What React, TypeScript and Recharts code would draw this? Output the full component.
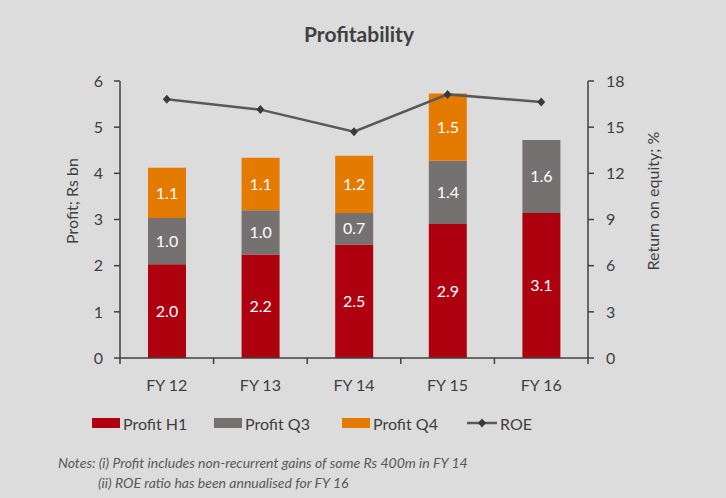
import {
  ComposedChart, Bar, Line, XAxis, YAxis, LabelList,
} from "recharts";

const years = ["FY 12", "FY 13", "FY 14", "FY 15", "FY 16"];
const profitH1 = [2.03, 2.24, 2.46, 2.9, 3.14];
const profitQ3 = [1.0, 0.96, 0.68, 1.37, 1.58];
const profitQ4 = [1.09, 1.14, 1.24, 1.46, 0];
const roe = [16.81, 16.14, 14.71, 17.13, 16.63];

const leftTicks = [0, 1, 2, 3, 4, 5, 6];
const rightTicks = [0, 3, 6, 9, 12, 15, 18];

const colors = { h1: "#ae000f", q3: "#767171", q4: "#e47a00", roe: "#595959" };
const font = "Lato, 'Open Sans', sans-serif";
const ink = "#404040";

// plot box
const W = 726, H = 498;
const M = { top: 81, right: 80, bottom: 110, left: 60 };
const plotLeft = 120, plotRight = 588, plotBottom = H - M.bottom - 30;
const band = (plotRight - plotLeft) / years.length;

const data = years.map((fy, i) => ({
  fy,
  h1: profitH1[i],
  q3: profitQ3[i],
  q4: profitQ4[i],
  roe: roe[i],
}));

const fmt = (v: any) => (v ? Number(v).toFixed(1) : "");

const legend = [
  { name: "Profit H1", color: colors.h1, left: 92, kind: "box" },
  { name: "Profit Q3", color: colors.q3, left: 214, kind: "box" },
  { name: "Profit Q4", color: colors.q4, left: 342, kind: "box" },
  { name: "ROE", color: colors.roe, left: 467, kind: "line" },
];

const Diamond = (props: any) => {
  const { cx, cy } = props;
  if (cx == null || cy == null) return null;
  return <path d={`M${cx},${cy - 4.5}L${cx + 4},${cy}L${cx},${cy + 4.5}L${cx - 4},${cy}Z`} fill="#3a3a3a" />;
};

// category label plus tick marks on the band edges
const CatTick = (props: any) => {
  const { x, payload, index } = props;
  const left = x - band / 2;
  return (
    <g>
      <line x1={left} y1={plotBottom} x2={left} y2={plotBottom + 6} stroke={ink} strokeWidth={1.5} />
      {index === years.length - 1 && (
        <line x1={left + band} y1={plotBottom} x2={left + band} y2={plotBottom + 6} stroke={ink} strokeWidth={1.5} />
      )}
      <text x={x} y={plotBottom + 26} textAnchor="middle" dominantBaseline="central" fill={ink} fontSize={16} fontFamily={font}>
        {payload.value}
      </text>
    </g>
  );
};

const axisTitle = (text: string, x: number) => () => (
  <text x={x} y={201} transform={`rotate(-90 ${x} 201)`} textAnchor="middle" dominantBaseline="central"
    fill={ink} fontSize={16} fontFamily={font}>
    {text}
  </text>
);

export default function App() {
  return (
    <div style={{ position: "absolute", left: 0, top: 0, width: W, height: H, background: "#dcdcdc", fontFamily: font }}>
      <div style={{ position: "absolute", top: 21, left: 0, width: 718, textAlign: "center", fontSize: 21, fontWeight: 700, color: ink }}>
        Profitability
      </div>
      <ComposedChart width={W} height={H} data={data} barSize={38} margin={M}>
        <XAxis dataKey="fy" height={30} tickLine={false} axisLine={{ stroke: ink, strokeWidth: 1.5 }}
          tick={<CatTick />} interval={0} />
        <YAxis yAxisId="left" domain={[0, 6]} ticks={leftTicks} width={60} interval={0}
          axisLine={{ stroke: ink, strokeWidth: 1.5 }} tickLine={{ stroke: ink, strokeWidth: 1.5 }} tickSize={6} tickMargin={11}
          tick={{ fill: ink, fontSize: 16, fontFamily: font }}
          label={{ content: axisTitle("Profit; Rs bn", 71) }} />
        <YAxis yAxisId="right" orientation="right" domain={[0, 18]} ticks={rightTicks} width={58} interval={0}
          axisLine={{ stroke: ink, strokeWidth: 1.5 }} tickLine={{ stroke: ink, strokeWidth: 1.5 }} tickSize={6} tickMargin={12}
          tick={{ fill: ink, fontSize: 16, fontFamily: font }}
          label={{ content: axisTitle("Return on equity; %", 652) }} />
        <Bar yAxisId="left" dataKey="h1" stackId="p" fill={colors.h1} isAnimationActive={false}>
          <LabelList dataKey="h1" position="center" formatter={fmt} fill="#ffffff" fontSize={16} fontFamily={font} />
        </Bar>
        <Bar yAxisId="left" dataKey="q3" stackId="p" fill={colors.q3} isAnimationActive={false}>
          <LabelList dataKey="q3" position="center" formatter={fmt} fill="#ffffff" fontSize={16} fontFamily={font} />
        </Bar>
        <Bar yAxisId="left" dataKey="q4" stackId="p" fill={colors.q4} isAnimationActive={false}>
          <LabelList dataKey="q4" position="center" formatter={fmt} fill="#ffffff" fontSize={16} fontFamily={font} />
        </Bar>
        <Line yAxisId="right" dataKey="roe" stroke={colors.roe} strokeWidth={2.5} type="linear"
          dot={<Diamond />} activeDot={false} isAnimationActive={false} />
      </ComposedChart>
      {legend.map((l) => (
        <div key={l.name} style={{ position: "absolute", top: 413, left: l.left, height: 20, display: "flex", alignItems: "center", fontSize: 16, color: ink }}>
          {l.kind === "box" ? (
            <span style={{ display: "inline-block", width: 28, height: 10, background: l.color, marginRight: 3 }} />
          ) : (
            <svg width={30} height={10} style={{ marginRight: 3 }}>
              <line x1={0} y1={5} x2={30} y2={5} stroke={l.color} strokeWidth={2.5} />
              <path d="M15,0.5L19,5L15,9.5L11,5Z" fill="#3a3a3a" />
            </svg>
          )}
          {l.name}
        </div>
      ))}
      <div style={{ position: "absolute", left: 58, top: 453, fontSize: 14, fontStyle: "italic", color: "#595959", lineHeight: "20px" }}>
        <div>Notes: (i) Profit includes non-recurrent gains of some Rs 400m in FY 14</div>
        <div style={{ paddingLeft: 40 }}>(ii) ROE ratio has been annualised for FY 16</div>
      </div>
    </div>
  );
}
